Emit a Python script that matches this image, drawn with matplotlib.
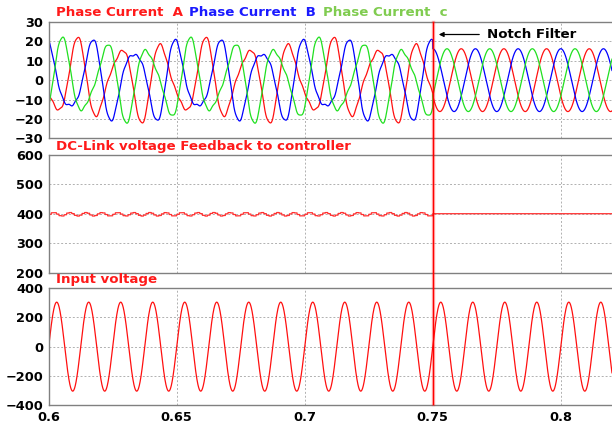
import numpy as np
import matplotlib
matplotlib.use("Agg")
import matplotlib.pyplot as plt
from matplotlib.transforms import blended_transform_factory

plt.rcParams["font.family"] = ["DejaVu Sans"]
plt.rcParams["font.weight"] = "bold"

# Values
notch_time = 0.75
x_ticks = [0.6, 0.65, 0.7, 0.75, 0.8]
x_tick_labels = ["0.6", "0.65", "0.7", "0.75", "0.8"]

# phase currents: harmonic components before the notch filter (Hz, A, deg)
current_freqs = [60, 100, 380]
current_amps_before = [17.7, 4.7, 0.5]
current_phase_before = [0, 60, 0]
current_seq = [1, -1, 1]          # positive / negative sequence
current_amp_after = 16.2
phase_angles = {"A": 120, "B": 0, "C": -120}

# dc link
dc_level_before = 398
dc_ripple_amp = 6
dc_ripple_freq = 160
dc_sample = 0.001
dc_level_after = 400

# input voltage
vin_amp = 305
vin_freq = 80

current_ticks = [30, 20, 10, 0, -10, -20, -30]
dc_ticks = [600, 500, 400, 300, 200]
vin_ticks = [400, 200, 0, -200, -400]

t = np.arange(0.6, 0.8205, 2e-5)
before = t < notch_time


def phase_current(theta):
    i_before = np.zeros_like(t)
    for f, a, p, s in zip(current_freqs, current_amps_before, current_phase_before, current_seq):
        i_before += a * np.cos(2 * np.pi * f * t + np.radians(p + s * theta))
    i_after = current_amp_after * np.cos(2 * np.pi * current_freqs[0] * t + np.radians(theta))
    return np.where(before, i_before, i_after)


ia = phase_current(phase_angles["A"])
ib = phase_current(phase_angles["B"])
ic = phase_current(phase_angles["C"])

t_dc = np.floor(t / dc_sample) * dc_sample
vdc = np.where(before, dc_level_before + dc_ripple_amp * np.sin(2 * np.pi * dc_ripple_freq * t_dc), dc_level_after)

vin = vin_amp * np.sin(2 * np.pi * vin_freq * t)

W, H = 612, 423
fig = plt.figure(figsize=(W / 100, H / 100), dpi=100)

left = 48.7 / W
boxes = [(22, 138.3), (154.7, 272.7), (288.3, 405)]
axes = []
for top, bot in boxes:
    ax = fig.add_axes([left, 1 - bot / H, 1 - left, (bot - top) / H])
    axes.append(ax)
ax1, ax2, ax3 = axes

ax1.plot(t, ia, color="#ff1010", lw=0.9)
ax1.plot(t, ib, color="#0000ff", lw=0.9)
ax1.plot(t, ic, color="#20e020", lw=0.9)
ax1.set_ylim(-30, 30)
ax1.set_yticks(current_ticks)

ax2.plot(t, vdc, color="#ff3030", lw=0.9)
ax2.set_ylim(200, 600)
ax2.set_yticks(dc_ticks)

ax3.plot(t, vin, color="#ff1010", lw=0.9)
ax3.set_ylim(-400, 400)
ax3.set_yticks(vin_ticks)

tick_fs = 9.3
for ax in axes:
    ax.set_xlim(0.6, 0.82)
    ax.set_xticks(x_ticks)
    ax.grid(True, color="#b0b0b0", lw=0.7, linestyle=(0, (2, 2)))
    ax.tick_params(length=0, pad=4, labelsize=tick_fs)
    for s in ["left", "top", "bottom"]:
        ax.spines[s].set_color("#808080")
        ax.spines[s].set_linewidth(1.0)
    ax.spines["right"].set_visible(False)
    for lab in ax.get_yticklabels():
        lab.set_fontweight("bold")

ax1.set_xticklabels([])
ax2.set_xticklabels([])
ax3.set_xticklabels(x_tick_labels, fontweight="bold")
ax3.tick_params(axis="x", pad=4)

# notch filter marker across all panels
trans = blended_transform_factory(ax1.transData, fig.transFigure)
fig.add_artist(plt.Line2D([notch_time, notch_time], [1 - 22 / H, 1 - 404 / H],
                          transform=trans, color="#ff0000", lw=1.0))
fig.add_artist(plt.Line2D([notch_time, notch_time], [1 - 22 / H, 1 - 404 / H],
                          transform=trans, color="#ff0000", lw=2.5, alpha=0.25))

fs = 9.6
fig.text(56 / W, 1 - 13 / H, "Phase Current  A", color="#ff1a1a", fontsize=fs, fontweight="bold", va="center")
fig.text(189 / W, 1 - 13 / H, "Phase Current  B", color="#1a1aff", fontsize=fs, fontweight="bold", va="center")
fig.text(323 / W, 1 - 13 / H, "Phase Current  c", color="#80cc50", fontsize=fs, fontweight="bold", va="center")
fig.text(56 / W, 1 - 146 / H, "DC-Link voltage Feedback to controller", color="#ff1a1a", fontsize=fs,
         fontweight="bold", va="center")
fig.text(56 / W, 1 - 280 / H, "Input voltage", color="#ff1a1a", fontsize=fs, fontweight="bold", va="center")

fig.text(487 / W, 1 - 34.5 / H, "Notch Filter", color="black", fontsize=fs, fontweight="bold", va="center")
fig.add_artist(matplotlib.patches.FancyArrowPatch((482 / W, 1 - 34.5 / H), (436 / W, 1 - 34.5 / H),
                                                  transform=fig.transFigure, arrowstyle="-|>",
                                                  mutation_scale=7, color="black", lw=0.9))

fig.savefig("out.png", dpi=100)
